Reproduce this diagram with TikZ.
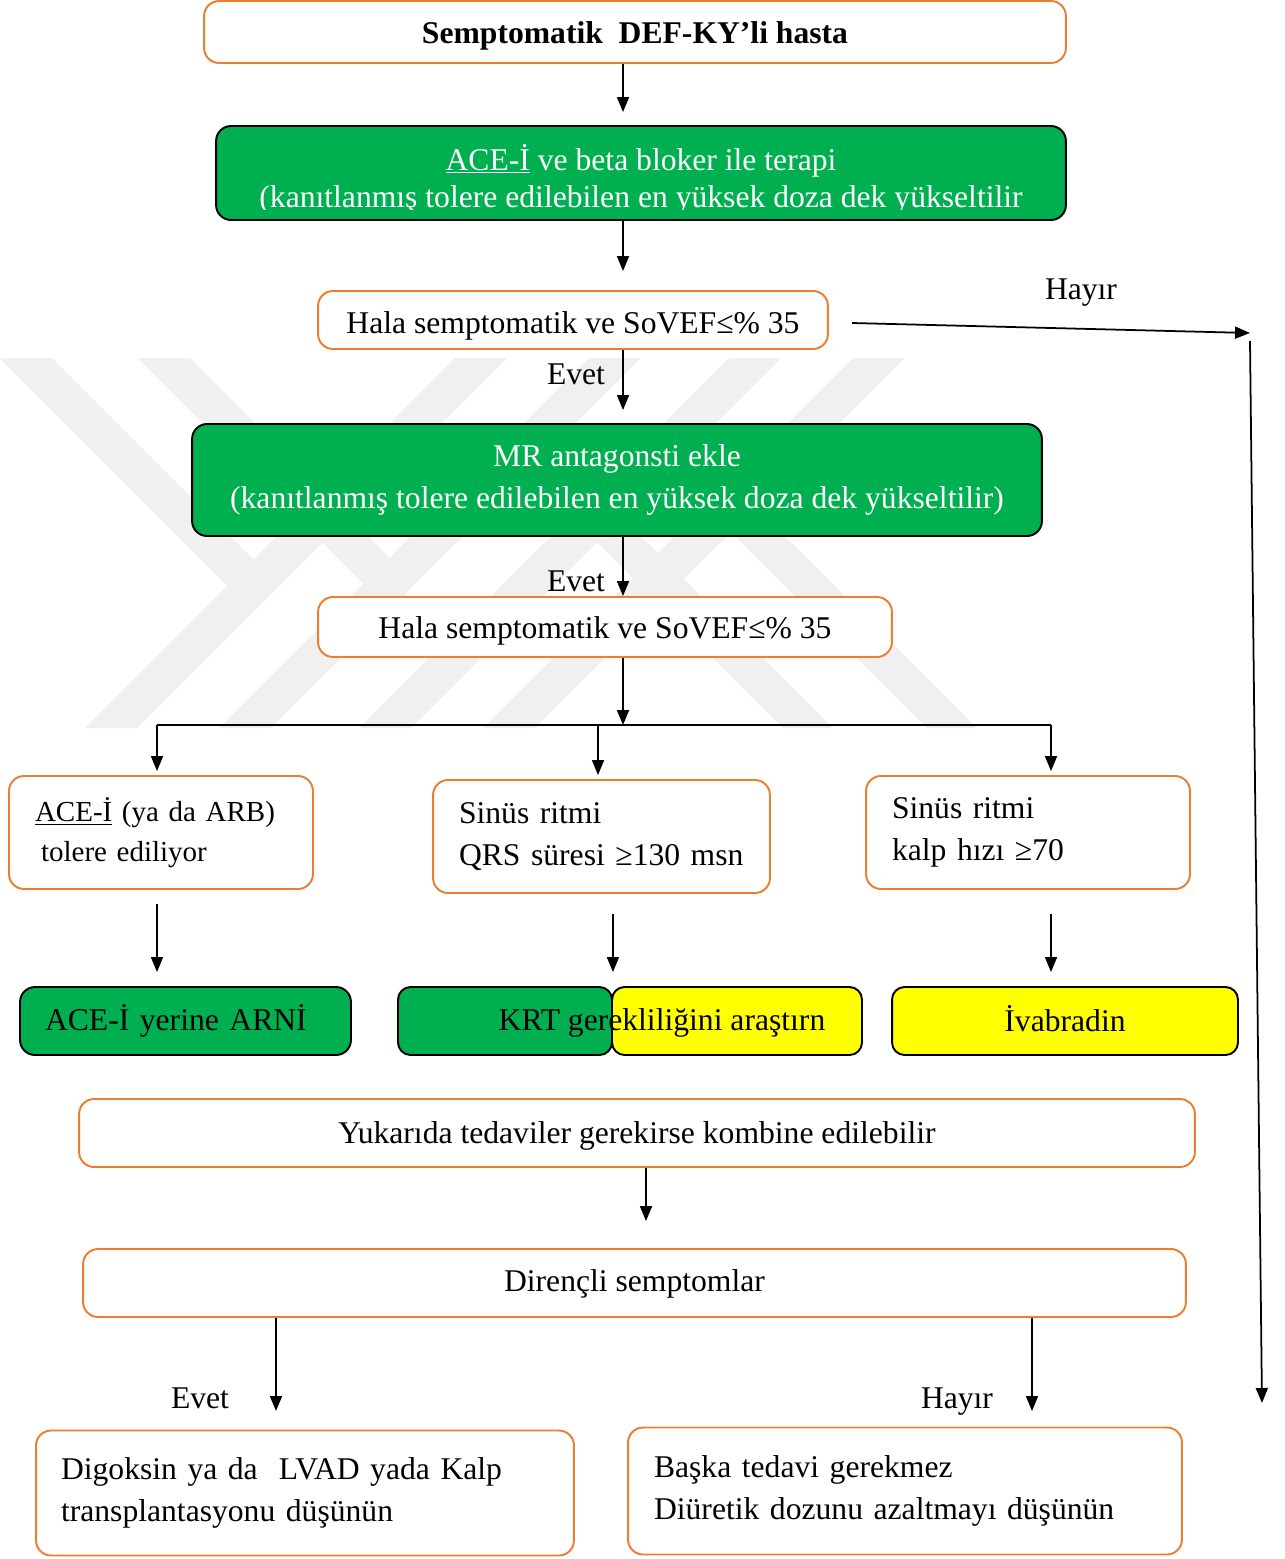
\documentclass[tikz,border=0pt]{standalone}
\usepackage{fontspec}
\setmainfont{Liberation Serif}
\usetikzlibrary{arrows.meta}
\definecolor{kyorange}{HTML}{ED7D31}
\definecolor{kygreen}{HTML}{00B050}
\definecolor{kyyellow}{HTML}{FFFF00}
\newcommand{\kyfont}{\fontsize{18}{24}\selectfont}

\begin{document}
\begin{tikzpicture}[x=0.02cm,y=-0.02cm,font=\kyfont,
  obox/.style={draw=kyorange,line width=1.1pt,fill=white,rounded corners=0.3cm,inner sep=0pt},
  gbox/.style={draw=black,line width=1.1pt,fill=kygreen,rounded corners=0.3cm,inner sep=0pt},
  ybox/.style={draw=black,line width=1.1pt,fill=kyyellow,rounded corners=0.25cm,inner sep=0pt},
  ltext/.style={align=left,inner xsep=0.52cm},
  vtext/.style={text height=#1,text depth=0pt},
  arr/.style={-{Triangle[length=0.3cm,width=0.24cm]},line width=1pt},
  lbl/.style={inner sep=0pt},
  wm/.style={fill=black!6}]

\useasboundingbox (0,0) rectangle (1285,1559);

% watermark
\fill[wm] (0,358) -- (52,358) -- (253.5,559.5) -- (227.5,585.5) -- cycle;
\fill[wm] (455,358) -- (507,358) -- (137,728) -- (85,728) -- cycle;
\fill[wm] (138,358) -- (190,358) -- (389.5,557.5) -- (363.5,583.5) -- cycle;
\fill[wm] (589,358) -- (641,358) -- (271,728) -- (219,728) -- cycle;
\fill[wm] (729,358) -- (781,358) -- (411,728) -- (359,728) -- cycle;
\fill[wm] (597,542) -- (622,517) -- (833,728) -- (783,728) -- cycle;
\fill[wm] (853,358) -- (905,358) -- (535,728) -- (483,728) -- cycle;
\fill[wm] (731,532) -- (756,507) -- (977,728) -- (927,728) -- cycle;

% boxes
\node[obox,vtext=12.9pt,minimum width=17.24cm,minimum height=1.24cm,font=\kyfont\bfseries] (hasta) at (635,32) {Semptomatik\ \ DEF-KY’li hasta};
\node[gbox,minimum width=17cm,minimum height=1.88cm] (ace) at (641,173) {};
\begin{scope}
  \clip (200,100) rectangle (1080,209);
  \node[lbl,anchor=base,text=white] (acel1) at (641,170) {\underline{ACE-İ} ve beta bloker ile terapi};
  \node[lbl,anchor=base,text=white] (acel2) at (641,207) {(kanıtlanmış tolere edilebilen en yüksek doza dek yükseltilir};
\end{scope}
\node[obox,vtext=15.1pt,minimum width=10.2cm,minimum height=1.16cm] (q1) at (573,320) {Hala semptomatik ve SoVEF≤\% 35};
\node[gbox,minimum width=17cm,minimum height=2.24cm,text=white,align=center] (mr) at (617,480) {MR antagonsti ekle\\(kanıtlanmış tolere edilebilen en yüksek doza dek yükseltilir)};
\node[obox,vtext=12.9pt,minimum width=11.48cm,minimum height=1.2cm] (q2) at (605,627) {Hala semptomatik ve SoVEF≤\% 35};

\node[obox,ltext,minimum height=2.26cm,text width=5.04cm,font=\fontsize{16.5}{22.5}\selectfont] (b1) at (161,832.5) {\underline{ACE-İ} (ya da ARB)\\\hspace*{0.12cm}tolere ediliyor};
\node[obox,ltext,minimum height=2.26cm,text width=5.7cm] (b2) at (601.5,836.5) {Sinüs ritmi\\QRS süresi ≥130 msn};
\node[obox,ltext,minimum height=2.26cm,text width=5.44cm] (b3) at (1028,832.5) {Sinüs ritmi\\kalp hızı ≥70};

\node[gbox,ltext,minimum height=1.36cm,text width=5.62cm,inner xsep=0.5cm] (g1) at (185.5,1021) {ACE-İ yerine ARNİ};
\node[gbox,minimum width=4.28cm,minimum height=1.36cm,rounded corners=0.25cm] (krtG) at (505,1021) {};
\node[ybox,minimum width=5cm,minimum height=1.36cm] (krtY) at (737,1021) {};
\node[lbl] (krt) at (662,1023) {KRT gerekliliğini araştırn};
\node[ybox,vtext=12.4pt,minimum width=6.92cm,minimum height=1.36cm] (ivab) at (1065,1021) {İvabradin};

\node[obox,vtext=11.7pt,minimum width=22.32cm,minimum height=1.36cm] (comb) at (637,1133) {Yukarıda tedaviler gerekirse kombine edilebilir};
\node[obox,vtext=9.4pt,minimum width=22.06cm,minimum height=1.36cm] (dir) at (634.5,1283) {Dirençli semptomlar};
\node[obox,ltext,minimum height=2.5cm,text width=9.76cm,inner xsep=0.5cm] (d1) at (305,1493) {Digoksin ya da\ \ LVAD yada Kalp\\transplantasyonu düşünün};
\node[obox,ltext,minimum height=2.54cm,text width=10.04cm] (d2) at (905,1491) {Başka tedavi gerekmez\\Diüretik dozunu azaltmayı düşünün};

% labels
\node[lbl] (evet1) at (576,374) {Evet};
\node[lbl] (evet2) at (576,581) {Evet};
\node[lbl] (hayir1) at (1081,293) {Hayır};
\node[lbl] (evet3) at (200,1398) {Evet};
\node[lbl] (hayir2) at (957,1402) {Hayır};

% connectors
\coordinate (spine) at (623,0);
\coordinate (col1) at (157,725);
\coordinate (col2) at (598,725);
\coordinate (col3) at (1051,725);
\coordinate (mid2) at (646,0);
\coordinate (evL) at (276,1411);
\coordinate (noL) at (1032,1411);
\coordinate (hyA) at (852,323);
\coordinate (hyB) at (1250,333);
\coordinate (hyC) at (1250,341);
\coordinate (hyD) at (1262,1403);

\draw[arr,shorten >=0.26cm] (hasta.south -| spine) -- (ace.north -| spine);
\draw[arr,shorten >=0.38cm] (ace.south -| spine) -- (q1.north -| spine);
\draw[arr,shorten >=0.26cm] (q1.south -| spine) -- (mr.north -| spine);
\draw[arr] (mr.south -| spine) -- (q2.north -| spine);
\draw[arr] (q2.south -| spine) -- (spine |- col1);
\draw[line width=1pt] (col1) -- (col3);
\foreach \c/\b in {col1/b1,col2/b2,col3/b3}
  \draw[arr,shorten >=0.08cm] (\c) -- (\c |- \b.north);
\draw[arr,shorten <=0.28cm,shorten >=0.28cm] (b1.south -| col1) -- (g1.north -| col1);
\draw[arr,shorten <=0.4cm,shorten >=0.28cm] (b2.south -| krtG.east) -- (krtG.north east);
\draw[arr,shorten <=0.48cm,shorten >=0.28cm] (b3.south -| col3) -- (ivab.north -| col3);
\draw[arr,shorten >=0.54cm] (comb.south -| mid2) -- (dir.north -| mid2);
\draw[arr] (dir.south -| evL) -- (evL);
\draw[arr] (dir.south -| noL) -- (noL);
\draw[arr] (hyA) -- (hyB);
\draw[arr] (hyC) -- (hyD);
\end{tikzpicture}
\end{document}
